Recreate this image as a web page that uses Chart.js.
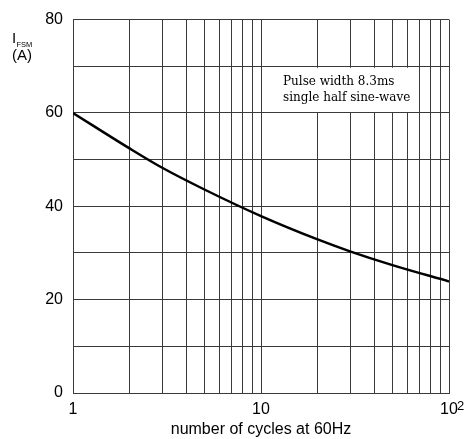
<!DOCTYPE html>
<html>
<head>
<meta charset="utf-8">
<script src="https://cdn.jsdelivr.net/npm/chart.js@4/dist/chart.umd.min.js"></script>
<style>
html,body{margin:0;padding:0;background:#fff;}
#wrap{width:465px;height:439px;}
</style>
</head>
<body>
<div id="wrap"><canvas id="surge"></canvas></div>
<script>
// number of cycles vs peak surge current
const cycles = [1, 2, 3, 5, 10, 20, 30, 50, 100];
const ifsm = [60, 52.4, 48.2, 43.6, 37.9, 32.9, 30.3, 27.4, 23.9];

const xGrid = [1,2,3,4,5,6,7,8,9,10,20,30,40,50,60,70,80,90,100];
const xLabels = {1: "1", 10: "10", 100: "10"};
const yLabeled = [0, 20, 40, 60, 80];

const noteLines = ["Pulse width 8.3ms", "single half sine-wave"];

const gridColor = "#3a3a3a";

const extras = {
  id: "extras",
  afterDraw(chart) {
    const ctx = chart.ctx;
    const y = chart.scales.y;
    const x = chart.scales.x;
    ctx.save();
    // note box covering the grid
    const top = y.getPixelForValue(70) + 1.5;
    const bot = y.getPixelForValue(60) - 1;
    ctx.fillStyle = "#fff";
    ctx.fillRect(272, top, 146, bot - top);
    ctx.fillStyle = "#000";
    ctx.font = "12px 'DejaVu Serif'";
    ctx.textBaseline = "alphabetic";
    ctx.textAlign = "left";
    ctx.fillText(noteLines[0], 283, 85);
    ctx.fillText(noteLines[1], 283, 101);
    // exponent on the last x label
    ctx.font = "13px 'Liberation Sans'";
    ctx.fillText("2", x.getPixelForValue(100) + 8, 410);
    // y axis title
    ctx.font = "15px 'Liberation Sans'";
    ctx.fillText("I", 12, 43);
    ctx.font = "7.5px 'Liberation Sans'";
    ctx.fillText("FSM", 16.5, 47);
    ctx.font = "15px 'Liberation Sans'";
    ctx.fillText("(A)", 12, 60);
    ctx.restore();
  }
};

new Chart(document.getElementById("surge"), {
  type: "line",
  data: {
    datasets: [{
      data: cycles.map((c, i) => ({x: c, y: ifsm[i]})),
      borderColor: "#000",
      borderWidth: 2.5,
      pointRadius: 0,
      fill: false,
      cubicInterpolationMode: "monotone"
    }]
  },
  options: {
    responsive: true,
    maintainAspectRatio: false,
    animation: false,
    layout: {padding: {top: 17, right: 16, left: 0, bottom: 0}},
    plugins: {legend: {display: false}, tooltip: {enabled: false}},
    scales: {
      x: {
        type: "logarithmic",
        min: 1,
        max: 100,
        afterBuildTicks(s) { s.ticks = xGrid.map(v => ({value: v})); },
        afterFit(s) { s.height = 46; },
        grid: {color: gridColor, lineWidth: 1, drawTicks: false},
        border: {color: gridColor, width: 1},
        ticks: {
          autoSkip: false,
          maxRotation: 0,
          padding: 7,
          color: "#000",
          font: {family: "'Liberation Sans'", size: 16},
          callback: v => xLabels[v] || ""
        },
        title: {
          display: true,
          text: "number of cycles at 60Hz",
          color: "#000",
          padding: {top: 0, bottom: 0},
          font: {family: "'Liberation Sans'", size: 16}
        }
      },
      y: {
        min: 0,
        max: 80,
        afterFit(s) { s.width = 73; },
        grid: {color: gridColor, lineWidth: 1, drawTicks: false},
        border: {color: gridColor, width: 1},
        ticks: {
          stepSize: 10,
          padding: 10,
          color: "#000",
          font: {family: "'Liberation Sans'", size: 16},
          callback: v => yLabeled.includes(v) ? String(v) : ""
        }
      }
    }
  },
  plugins: [extras]
});
</script>
</body>
</html>
